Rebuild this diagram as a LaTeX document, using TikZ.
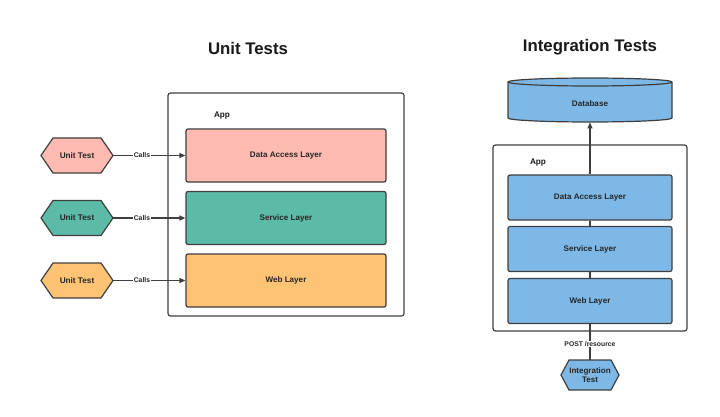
\documentclass[tikz,border=0pt]{standalone}
\usepackage{fontspec}
\setmainfont{Liberation Sans}
\usetikzlibrary{shapes.geometric,arrows.meta}
\definecolor{edge}{HTML}{3F3F3F}
\definecolor{pinkc}{HTML}{FFBBB1}
\definecolor{tealc}{HTML}{5CBBA6}
\definecolor{orangec}{HTML}{FFC374}
\definecolor{bluec}{HTML}{7DB8E6}
\tikzset{
  layer/.style={draw=edge, line width=1.2pt, rounded corners=2pt, minimum width=200pt, minimum height=53pt, font=\bfseries\fontsize{8.1}{9}\selectfont, text=black!85},
  rlayer/.style={layer, fill=bluec, minimum width=164pt, minimum height=45pt},
  appbox/.style={draw=edge, line width=1.2pt, rounded corners=2.5pt, fill=white},
  hexl/.style={draw=edge, line width=1.2pt},
  hextxt/.style={font=\bfseries\fontsize{8.2}{9}\selectfont, text=black!85, align=center},
  wire/.style={draw=edge, line width=1.2pt},
  conn/.style={wire, -{Triangle[length=6pt,width=5pt]}},
  lbl/.style={font=\bfseries\fontsize{6.8}{7.5}\selectfont, text=black!85, fill=white, inner sep=0.5pt},
  ttl/.style={font=\bfseries\fontsize{16.8}{18}\selectfont, text=black!90},
  applbl/.style={font=\bfseries\fontsize{8.2}{9}\selectfont, text=black!90}
}
\begin{document}
\begin{tikzpicture}[x=1pt,y=-1pt]
\useasboundingbox (0,0) rectangle (720,417);
\fill[white] (0,0) rectangle (720,417);
% titles
\node[ttl] (t1) at (248,48) {Unit Tests};
\node[ttl] (t2) at (590,47) {Integration Tests};
% left app
\draw[appbox] (168,93) rectangle (404,316);
\node[applbl] (app1) at (222,116) {App};
\node[layer, fill=pinkc] (dal1) at (286,155.5) {Data Access Layer};
\node[layer, fill=tealc] (sl1) at (286,218) {Service Layer};
\node[layer, fill=orangec] (wl1) at (286,280.5) {Web Layer};
% hexagons
\foreach \n/\y/\c in {u1/155.5/pinkc, u2/218/tealc, u3/280.5/orangec}{
  \draw[hexl, fill=\c] (41,\y) -- (53,\y-17.5) -- (101,\y-17.5) -- (113,\y) -- (101,\y+17.5) -- (53,\y+17.5) -- cycle;
  \coordinate (\n) at (113,\y);
}
\node[hextxt] (ut1) at (77,155.5) {Unit Test};
\node[hextxt] (ut2) at (77,218) {Unit Test};
\node[hextxt] (ut3) at (77,280.5) {Unit Test};
\draw[conn] (u1) -- node[lbl, pos=0.4] {Calls} (dal1.west);
\draw[conn] (u2) -- node[lbl, pos=0.4] {Calls} (sl1.west);
\draw[conn] (u3) -- node[lbl, pos=0.4] {Calls} (wl1.west);
% right side
\draw[appbox] (493,145) rectangle (687,331);
\node[applbl] (app2) at (538,163) {App};
% database cylinder
\draw[edge, line width=1.2pt, fill=bluec] (508,82) -- (508,118) arc[start angle=180, end angle=360, x radius=82pt, y radius=4pt] -- (672,82) arc[start angle=0, end angle=180, x radius=82pt, y radius=4pt] -- cycle;
\draw[edge, line width=1.2pt] (508,82) arc[start angle=180, end angle=360, x radius=82pt, y radius=4pt];
\node[font=\bfseries\fontsize{8.1}{9}\selectfont, text=black!85] (dbl) at (590,103.5) {Database};
\coordinate (dbbot) at (590,122.5);
% integration test hexagon
\draw[hexl, fill=bluec] (561,375) -- (569,360) -- (611,360) -- (619,375) -- (611,390) -- (569,390) -- cycle;
\coordinate (ittop) at (590,360);
\node[rlayer] (dal2) at (590,197.5) {Data Access Layer};
\node[rlayer] (sl2) at (590,249) {Service Layer};
\node[rlayer] (wl2) at (590,301) {Web Layer};
\draw[wire] (ittop) -- (wl2.south);
\node[lbl] (post) at (590,344) {POST /resource};
\draw[wire] (sl2.south) -- (wl2.north);
\draw[wire] (dal2.south) -- (sl2.north);
\draw[conn] (dal2.north) -- (dbbot);
\node[hextxt, font=\bfseries\fontsize{8}{9}\selectfont] (it) at (590,375) {Integration\\[-0.5pt]Test};
\end{tikzpicture}
\end{document}
